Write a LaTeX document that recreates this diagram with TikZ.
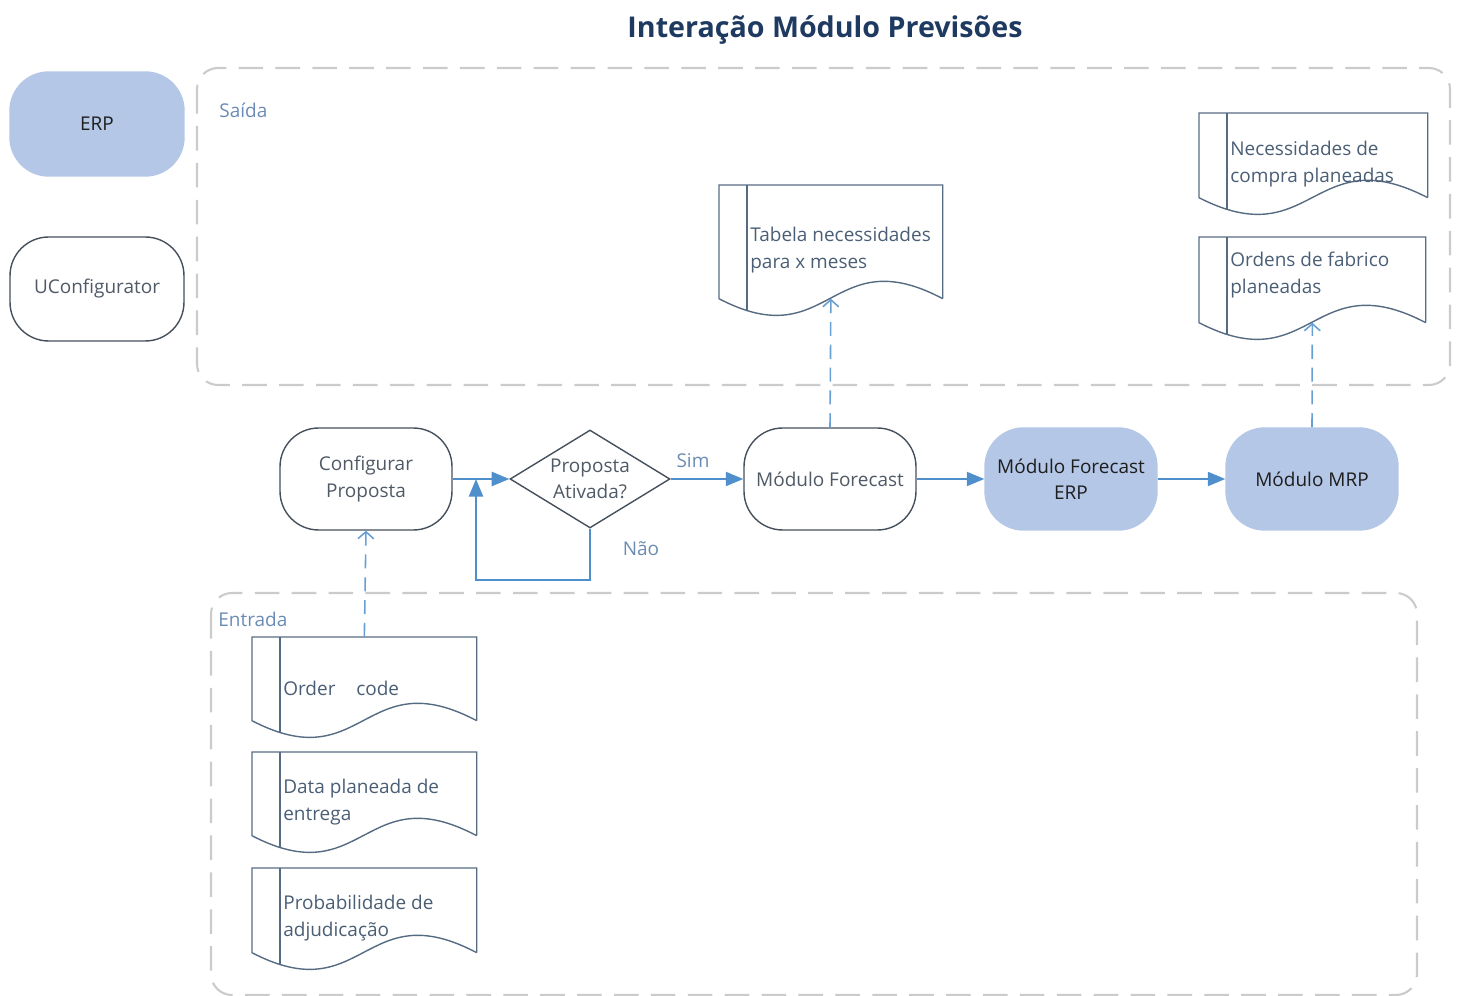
\documentclass[tikz,border=0pt]{standalone}
\usepackage{fontspec}
\setmainfont{Open Sans}
\usetikzlibrary{shapes.geometric,arrows.meta}

\definecolor{titleblue}{HTML}{1F3A60}
\definecolor{erpblue}{HTML}{B4C7E7}
\definecolor{boxline}{HTML}{46505C}
\definecolor{boxtext}{HTML}{505A66}
\definecolor{darktext}{HTML}{1E1E1E}
\definecolor{docline}{HTML}{566B82}
\definecolor{doctext}{HTML}{4A5E75}
\definecolor{flowblue}{HTML}{4F8FCC}
\definecolor{groupgray}{HTML}{CBCBCB}
\definecolor{lblblue}{HTML}{6A8CB4}

% document symbol: name, left, top, width, height (to wave centre), text y, text
\newcommand{\docnode}[7]{%
  \node[docbox, minimum width={#4*0.02cm}, minimum height={#5*0.02cm}, anchor=north west] (#1) at (#2,#3) {};
  \draw[docedge] (#1.south east) -- (#1.north east) -- (#1.north west) -- (#1.south west)
     .. controls ({#2+#4/2},{#3+#5+59}) and ({#2+#4/2},{#3+#5-59}) .. (#1.south east);
  \begin{scope}
    \clip (#1.south east) -- (#1.north east) -- (#1.north west) -- (#1.south west)
       .. controls ({#2+#4/2},{#3+#5+59}) and ({#2+#4/2},{#3+#5-59}) .. (#1.south east) -- cycle;
    \draw[docedge] ({#2+28},#3) -- ({#2+28},{#3+#5+40});
  \end{scope}
  \node[doclabel, anchor=west] (#1-t) at ({#2+31},#6) {#7};
}

\begin{document}
\begin{tikzpicture}[x=0.02cm, y=-0.02cm,
  font=\fontsize{10.8}{15}\selectfont,
  proc/.style={rounded corners=22pt, minimum width=3.44cm, minimum height=2.04cm,
    align=center, inner sep=2pt, line width=0.8pt},
  whitebox/.style={proc, draw=boxline, fill=white, text=boxtext},
  bluebox/.style={proc, draw=erpblue, fill=erpblue, text=darktext},
  decision/.style={diamond, aspect=1.63, draw=boxline, line width=0.8pt, fill=white, text=boxtext,
    minimum width=3.2cm, minimum height=1.96cm, inner sep=0pt, align=center},
  docbox/.style={rectangle, draw=none, inner sep=0pt},
  docedge/.style={draw=docline, line width=0.8pt},
  doclabel/.style={text=doctext, align=left, inner sep=0pt},
  flow/.style={draw=flowblue, line width=1.2pt, -{Triangle[length=10pt,width=8pt]}},
  datalink/.style={draw=flowblue!85, line width=0.9pt, dash pattern=on 8pt off 5pt,
    -{Straight Barb[length=4pt,width=9pt]}},
  group/.style={draw=groupgray, line width=1.2pt, dash pattern=on 14pt off 7pt,
    rounded corners=12pt},
  grouplabel/.style={text=lblblue, inner sep=0pt},
  lbl/.style={text=lblblue, inner sep=0pt}]

\useasboundingbox (0,0) rectangle (1458,996);

% title
\node[text=titleblue, font=\fontsize{16.3}{19}\selectfont\bfseries] (title) at (825,30)
  {Interação Módulo Previsões};

% group frames
\draw[group] (197,68) rectangle (1450,385);
\node[grouplabel, anchor=west] (saida) at (219,110) {Saída};
\draw[group] (211,593) rectangle (1417,995);
\node[grouplabel, anchor=west] (entrada) at (218,619) {Entrada};

% legend
\node[bluebox, minimum width=3.48cm, minimum height=2.08cm] (erp) at (97,124) {ERP};
\node[whitebox, minimum width=3.48cm, minimum height=2.08cm] (ucfg) at (97,289) {UConfigurator};

% process chain
\node[whitebox] (cfg) at (366,479) {Configurar\\Proposta};
\node[decision] (dec) at (590,479) {Proposta\\Ativada?};
\node[whitebox] (fc) at (830,479) {Módulo Forecast};
\node[bluebox] (fce) at (1071,479) {Módulo Forecast\\ERP};
\node[bluebox] (mrp) at (1312,479) {Módulo MRP};

% output documents
\docnode{tab}{719}{185}{223}{113}{250}{Tabela necessidades\\para x meses}
\docnode{nec}{1199}{113}{228}{84}{164}{Necessidades de\\compra planeadas}
\docnode{ord}{1199}{237}{226}{85}{275}{Ordens de fabrico\\planeadas}

% input documents
\docnode{oc}{252}{637}{224}{83}{688}{Order\hspace*{1.1em}code}
\docnode{dpe}{252}{752}{224}{83}{802}{Data planeada de\\entrega}
\docnode{pa}{252}{868}{224}{84}{918}{Probabilidade de\\adjudicação}

% flow connectors
\coordinate (join) at (476,479);
\draw[flow] (cfg) -- (dec);
\draw[flow] (dec) -- (fc);
\node[lbl] (sim) at (693,461) {Sim};
\draw[flow] (dec.south) -- ++(0,51) -| (join);
\node[lbl] (nao) at (641,549) {Não};
\draw[flow] (fc) -- (fce);
\draw[flow] (fce) -- (mrp);

% data connectors
\draw[datalink] (fc.north) -- (tab.south);
\draw[datalink] (mrp.north) -- (ord.south);
\draw[datalink] (oc.north) -- (cfg.south);

\end{tikzpicture}
\end{document}
